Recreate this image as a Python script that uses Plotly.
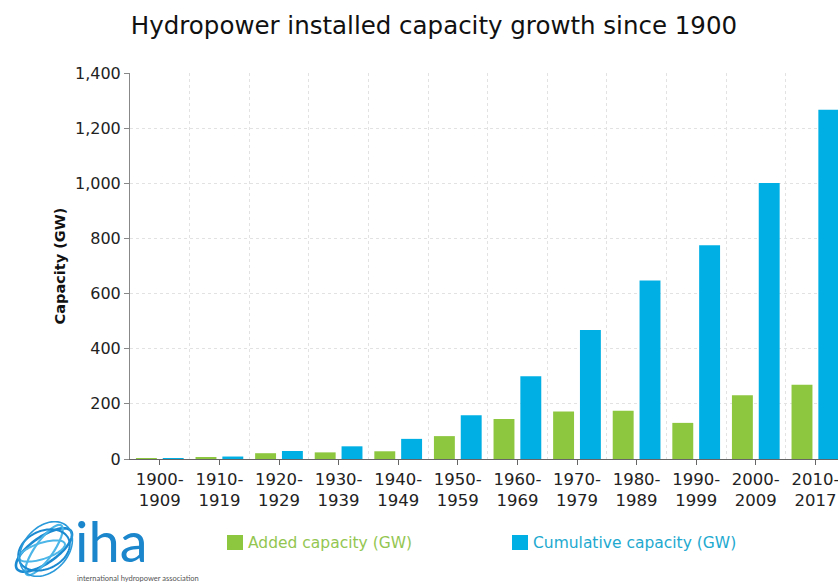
import math
import plotly.graph_objects as go

# ---- data ----
categories = ["1900-<br>1909", "1910-<br>1919", "1920-<br>1929", "1930-<br>1939",
              "1940-<br>1949", "1950-<br>1959", "1960-<br>1969", "1970-<br>1979",
              "1980-<br>1989", "1990-<br>1999", "2000-<br>2009", "2010-<br>2017"]
added_gw = [3, 7, 21, 24, 28, 83, 145, 172, 175, 131, 231, 269]
cumulative_gw = [3, 9, 29, 46, 73, 159, 300, 468, 647, 775, 1001, 1267]
y_ticks = [0, 200, 400, 600, 800, 1000, 1200, 1400]
series_names = ["Added capacity (GW)", "Cumulative capacity (GW)"]
series_colors = ["#8dc63f", "#00b0e4"]
legend_text_colors = ["#93c651", "#22a9cf"]

W, H = 838, 583
ML, MR, MT, MB = 130, 0, 73, 124
PW, PH = W - ML - MR, H - MT - MB

xs = list(range(len(categories)))
cat_px = 59.6

def px_x(px):
    return (px - ML) / PW

def px_y(py):
    return (H - MB - py) / PH

fig = go.Figure()
for vals, nm, col in zip([added_gw, cumulative_gw], series_names, series_colors):
    fig.add_trace(go.Bar(
        x=xs, y=vals, name=nm,
        marker=dict(color=col, line=dict(width=0)),
        hovertemplate="%{y} GW<extra>" + nm + "</extra>",
    ))

x_end = -0.5 + PW / cat_px

fig.update_layout(
    width=W, height=H,
    margin=dict(l=ML, r=MR, t=MT, b=MB, autoexpand=False),
    paper_bgcolor="white", plot_bgcolor="white",
    font=dict(family="DejaVu Sans, Verdana, sans-serif", color="#222"),
    title=dict(text="Hydropower installed capacity growth since 1900",
               x=434 / W, xref="container", xanchor="center",
               y=1 - 25 / H, yref="container", yanchor="middle",
               font=dict(size=24.5, color="#111")),
    barmode="group", bargap=0.1, bargroupgap=0.22,
    showlegend=False,
    xaxis=dict(
        range=[-0.5, x_end], tickmode="array", tickvals=xs, ticktext=categories,
        showgrid=False, zeroline=False,
        showline=True, linecolor="#666", linewidth=1,
        ticks="outside", ticklen=5, tickcolor="#666",
        ticklabeloverflow="allow",
        tickfont=dict(size=16.5, color="#222"),
        minor=dict(tickmode="array", tickvals=[i - 0.5 for i in range(1, len(xs) + 1)],
                   showgrid=True, gridcolor="#e2e2e2", griddash="dot", gridwidth=1,
                   ticklen=0),
    ),
    yaxis=dict(
        range=[0, 1400], tickmode="array", tickvals=y_ticks, tickformat=",",
        showgrid=True, gridcolor="#e2e2e2", griddash="dot", gridwidth=1,
        zeroline=False, showline=True, linecolor="#888", linewidth=1,
        ticks="outside", ticklen=5, tickcolor="#888",
        tickfont=dict(size=16, color="#222"),
        title=dict(text="<b>Capacity (GW)</b>", standoff=5,
                   font=dict(size=14.5, color="#111")),
    ),
)

# ---- legend (drawn beneath the chart, coloured text) ----
legend_x_px = [227, 512]
for lx, nm, col, tcol in zip(legend_x_px, series_names, series_colors, legend_text_colors):
    fig.add_shape(type="rect", xref="paper", yref="paper",
                  x0=px_x(lx), x1=px_x(lx + 16), y0=px_y(550), y1=px_y(535),
                  fillcolor=col, line=dict(width=0))
    fig.add_annotation(text=nm, xref="paper", yref="paper",
                       x=px_x(lx + 19), y=px_y(543), xanchor="left", yanchor="middle",
                       showarrow=False, font=dict(size=15.5, color=tcol))

# ---- IHA logo (decoration) ----
def ellipse_path(cx, cy, rx, ry, rot_deg, n=72):
    r = math.radians(rot_deg)
    pts = []
    for k in range(n + 1):
        t = 2 * math.pi * k / n
        ex, ey = rx * math.cos(t), ry * math.sin(t)
        px = cx + ex * math.cos(r) - ey * math.sin(r)
        py = cy + ex * math.sin(r) + ey * math.cos(r)
        pts.append((px_x(px), px_y(py)))
    return "M" + " L".join(f"{a:.5f},{b:.5f}" for a, b in pts) + " Z"

rings = [
    (44, 550, 33, 13, -35, "#1c8ad1", 2.6),
    (44, 550, 30, 9, -55, "#4cb6e8", 2.2),
    (44, 550, 27, 19, -25, "#1c8ad1", 2.0),
    (42, 551, 24, 8, -18, "#4cb6e8", 2.0),
    (46, 549, 31, 22, -48, "#2a9ada", 1.6),
]
for cx, cy, rx, ry, rot, col, lw in rings:
    fig.add_shape(type="path", xref="paper", yref="paper",
                  path=ellipse_path(cx, cy, rx, ry, rot),
                  line=dict(color=col, width=lw), fillcolor="rgba(0,0,0,0)",
                  layer="above")

fig.add_annotation(text="iha", xref="paper", yref="paper",
                   x=px_x(75), y=px_y(573.5), xanchor="left", yanchor="bottom",
                   borderpad=0, borderwidth=0,
                   showarrow=False,
                   font=dict(family="Lato, Open Sans, sans-serif", size=56, color="#1b86cc"))
fig.add_annotation(text="international hydropower association", xref="paper", yref="paper",
                   x=px_x(77), y=px_y(574), xanchor="left", yanchor="top",
                   borderpad=0, borderwidth=0,
                   showarrow=False,
                   font=dict(family="Lato, Open Sans, sans-serif", size=7.5, color="#555"))

fig.write_html("out.html", post_script="document.body.style.margin='0';",
               config={"displayModeBar": False})
